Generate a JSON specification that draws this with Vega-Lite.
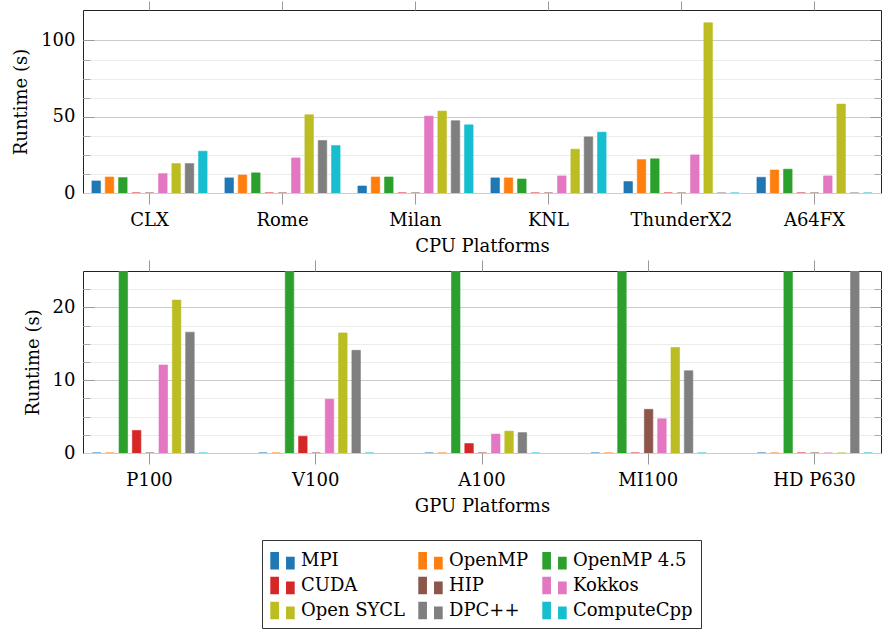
{
  "$schema": "https://vega.github.io/schema/vega-lite/v6.json",
  "padding": {"left": 12, "top": 0, "right": 0, "bottom": 0},
  "spacing": 3,
  "datasets": {
    "cpu": [
      {"p": "CLX", "m": "MPI", "v": 7.9}, {"p": "CLX", "m": "OpenMP", "v": 10.5}, {"p": "CLX", "m": "OpenMP 4.5", "v": 10.1}, {"p": "CLX", "m": "CUDA", "v": 0}, {"p": "CLX", "m": "HIP", "v": 0}, {"p": "CLX", "m": "Kokkos", "v": 12.7}, {"p": "CLX", "m": "Open SYCL", "v": 19.3}, {"p": "CLX", "m": "DPC++", "v": 19.3}, {"p": "CLX", "m": "ComputeCpp", "v": 27.4},
      {"p": "Rome", "m": "MPI", "v": 9.9}, {"p": "Rome", "m": "OpenMP", "v": 11.8}, {"p": "Rome", "m": "OpenMP 4.5", "v": 13.2}, {"p": "Rome", "m": "CUDA", "v": 0}, {"p": "Rome", "m": "HIP", "v": 0}, {"p": "Rome", "m": "Kokkos", "v": 23.0}, {"p": "Rome", "m": "Open SYCL", "v": 51.3}, {"p": "Rome", "m": "DPC++", "v": 34.4}, {"p": "Rome", "m": "ComputeCpp", "v": 31.1},
      {"p": "Milan", "m": "MPI", "v": 4.6}, {"p": "Milan", "m": "OpenMP", "v": 10.5}, {"p": "Milan", "m": "OpenMP 4.5", "v": 10.5}, {"p": "Milan", "m": "CUDA", "v": 0}, {"p": "Milan", "m": "HIP", "v": 0}, {"p": "Milan", "m": "Kokkos", "v": 50.4}, {"p": "Milan", "m": "Open SYCL", "v": 53.7}, {"p": "Milan", "m": "DPC++", "v": 47.4}, {"p": "Milan", "m": "ComputeCpp", "v": 44.7},
      {"p": "KNL", "m": "MPI", "v": 9.9}, {"p": "KNL", "m": "OpenMP", "v": 9.9}, {"p": "KNL", "m": "OpenMP 4.5", "v": 9.2}, {"p": "KNL", "m": "CUDA", "v": 0}, {"p": "KNL", "m": "HIP", "v": 0}, {"p": "KNL", "m": "Kokkos", "v": 11.2}, {"p": "KNL", "m": "Open SYCL", "v": 28.7}, {"p": "KNL", "m": "DPC++", "v": 36.8}, {"p": "KNL", "m": "ComputeCpp", "v": 39.9},
      {"p": "ThunderX2", "m": "MPI", "v": 7.5}, {"p": "ThunderX2", "m": "OpenMP", "v": 21.9}, {"p": "ThunderX2", "m": "OpenMP 4.5", "v": 22.4}, {"p": "ThunderX2", "m": "CUDA", "v": 0}, {"p": "ThunderX2", "m": "HIP", "v": 0}, {"p": "ThunderX2", "m": "Kokkos", "v": 25.0}, {"p": "ThunderX2", "m": "Open SYCL", "v": 111.6}, {"p": "ThunderX2", "m": "DPC++", "v": 0}, {"p": "ThunderX2", "m": "ComputeCpp", "v": 0},
      {"p": "A64FX", "m": "MPI", "v": 10.3}, {"p": "A64FX", "m": "OpenMP", "v": 15.1}, {"p": "A64FX", "m": "OpenMP 4.5", "v": 15.6}, {"p": "A64FX", "m": "CUDA", "v": 0}, {"p": "A64FX", "m": "HIP", "v": 0}, {"p": "A64FX", "m": "Kokkos", "v": 11.2}, {"p": "A64FX", "m": "Open SYCL", "v": 58.3}, {"p": "A64FX", "m": "DPC++", "v": 0}, {"p": "A64FX", "m": "ComputeCpp", "v": 0}
    ],
    "gpu": [
      {"p": "P100", "m": "MPI", "v": 0}, {"p": "P100", "m": "OpenMP", "v": 0}, {"p": "P100", "m": "OpenMP 4.5", "v": 30}, {"p": "P100", "m": "CUDA", "v": 3.1}, {"p": "P100", "m": "HIP", "v": 0}, {"p": "P100", "m": "Kokkos", "v": 12.1}, {"p": "P100", "m": "Open SYCL", "v": 21.0}, {"p": "P100", "m": "DPC++", "v": 16.6}, {"p": "P100", "m": "ComputeCpp", "v": 0},
      {"p": "V100", "m": "MPI", "v": 0}, {"p": "V100", "m": "OpenMP", "v": 0}, {"p": "V100", "m": "OpenMP 4.5", "v": 30}, {"p": "V100", "m": "CUDA", "v": 2.3}, {"p": "V100", "m": "HIP", "v": 0}, {"p": "V100", "m": "Kokkos", "v": 7.4}, {"p": "V100", "m": "Open SYCL", "v": 16.5}, {"p": "V100", "m": "DPC++", "v": 14.1}, {"p": "V100", "m": "ComputeCpp", "v": 0},
      {"p": "A100", "m": "MPI", "v": 0}, {"p": "A100", "m": "OpenMP", "v": 0}, {"p": "A100", "m": "OpenMP 4.5", "v": 30}, {"p": "A100", "m": "CUDA", "v": 1.3}, {"p": "A100", "m": "HIP", "v": 0}, {"p": "A100", "m": "Kokkos", "v": 2.6}, {"p": "A100", "m": "Open SYCL", "v": 3.0}, {"p": "A100", "m": "DPC++", "v": 2.8}, {"p": "A100", "m": "ComputeCpp", "v": 0},
      {"p": "MI100", "m": "MPI", "v": 0}, {"p": "MI100", "m": "OpenMP", "v": 0}, {"p": "MI100", "m": "OpenMP 4.5", "v": 30}, {"p": "MI100", "m": "CUDA", "v": 0}, {"p": "MI100", "m": "HIP", "v": 6.0}, {"p": "MI100", "m": "Kokkos", "v": 4.7}, {"p": "MI100", "m": "Open SYCL", "v": 14.5}, {"p": "MI100", "m": "DPC++", "v": 11.3}, {"p": "MI100", "m": "ComputeCpp", "v": 0},
      {"p": "HD P630", "m": "MPI", "v": 0}, {"p": "HD P630", "m": "OpenMP", "v": 0}, {"p": "HD P630", "m": "OpenMP 4.5", "v": 30}, {"p": "HD P630", "m": "CUDA", "v": 0}, {"p": "HD P630", "m": "HIP", "v": 0}, {"p": "HD P630", "m": "Kokkos", "v": 0}, {"p": "HD P630", "m": "Open SYCL", "v": 0}, {"p": "HD P630", "m": "DPC++", "v": 30}, {"p": "HD P630", "m": "ComputeCpp", "v": 0}
    ]
  },
  "config": {
    "font": "DejaVu Serif",
    "view": {"stroke": "#222222", "strokeWidth": 1},
    "axis": {"labelFont": "DejaVu Serif", "titleFont": "DejaVu Serif", "labelFontSize": 18, "titleFontSize": 18, "titleFontWeight": "normal", "labelColor": "#000000", "titleColor": "#000000", "domain": false},
    "legend": {"labelFont": "DejaVu Serif", "labelFontSize": 18, "labelColor": "#000000"}
  },
  "vconcat": [
    {
      "data": {"name": "cpu"},
      "width": 798,
      "height": 183,
      "resolve": {"axis": {"x": "independent", "y": "independent"}},
      "encoding": {
        "xOffset": {"field": "m", "type": "nominal", "sort": null, "scale": {"domain": ["MPI", "OpenMP", "OpenMP 4.5", "CUDA", "HIP", "Kokkos", "Open SYCL", "DPC++", "ComputeCpp"], "paddingInner": 0.36, "paddingOuter": 0.18}}
      },
      "layer": [
        {
          "mark": {"type": "bar", "clip": true, "strokeWidth": 1, "strokeOpacity": 0.6},
          "encoding": {
            "x": {"field": "p", "type": "nominal", "sort": null, "scale": {"paddingInner": 0.098, "paddingOuter": 0.049}, "axis": {"orient": "bottom", "title": "CPU Platforms", "labelAngle": 0, "ticks": true, "tickSize": 11, "tickColor": "#999999", "labelPadding": 7, "titlePadding": 8, "grid": false}},
            "y": {"field": "v", "type": "quantitative", "scale": {"domain": [0, 120], "nice": false}, "axis": {"orient": "left", "values": [0, 50, 100], "grid": true, "gridColor": "#cccccc", "ticks": false, "labelPadding": 8, "title": "Runtime (s)", "titlePadding": 10}},
            "color": {"field": "m", "type": "nominal", "scale": {"domain": ["MPI", "OpenMP", "OpenMP 4.5", "CUDA", "HIP", "Kokkos", "Open SYCL", "DPC++", "ComputeCpp"], "range": ["#1f77b4", "#ff7f0e", "#2ca02c", "#d62728", "#8c564b", "#e377c2", "#bcbd22", "#7f7f7f", "#17becf"]},
              "legend": {"title": null, "orient": "none", "legendX": 179, "legendY": 530, "columns": 3, "direction": "horizontal", "symbolType": "M-1,-0.71H-0.29V0.71H-1Z M0.29,-0.33H1V0.71H0.29Z", "symbolSize": 595, "symbolStrokeWidth": 0, "labelOffset": 6, "padding": 8, "strokeColor": "#333333", "rowPadding": 3, "columnPadding": 13, "gridAlign": "each", "labelLimit": 300}},
            "stroke": {"field": "m", "type": "nominal", "scale": {"domain": ["MPI", "OpenMP", "OpenMP 4.5", "CUDA", "HIP", "Kokkos", "Open SYCL", "DPC++", "ComputeCpp"], "range": ["#1f77b4", "#ff7f0e", "#2ca02c", "#d62728", "#8c564b", "#e377c2", "#bcbd22", "#7f7f7f", "#17becf"]}, "legend": null}
          }
        },
        {
          "mark": {"type": "bar", "clip": true, "opacity": 0},
          "encoding": {
            "x": {"field": "p", "type": "nominal", "sort": null, "axis": {"orient": "top", "labels": false, "ticks": true, "tickSize": 9, "tickColor": "#999999", "title": null, "grid": false}},
            "y": {"field": "v", "type": "quantitative", "axis": {"orient": "left", "values": [12.5, 25, 37.5, 62.5, 75, 87.5], "grid": true, "gridColor": "#ececec", "ticks": true, "tickSize": -7, "tickColor": "#aaaaaa", "labels": false, "title": null}}
          }
        },
        {
          "mark": {"type": "bar", "clip": true, "opacity": 0},
          "encoding": {
            "x": {"field": "p", "type": "nominal", "sort": null, "axis": null},
            "y": {"field": "v", "type": "quantitative", "axis": {"orient": "left", "values": [50, 100], "grid": false, "ticks": true, "tickSize": -11, "tickColor": "#999999", "labels": false, "title": null}}
          }
        },
        {
          "mark": {"type": "bar", "clip": true, "opacity": 0},
          "encoding": {
            "x": {"field": "p", "type": "nominal", "sort": null, "axis": null},
            "y": {"field": "v", "type": "quantitative", "axis": {"orient": "right", "values": [50, 100], "grid": false, "ticks": true, "tickSize": -11, "tickColor": "#999999", "labels": false, "title": null}}
          }
        },
        {
          "mark": {"type": "bar", "clip": true, "opacity": 0},
          "encoding": {
            "x": {"field": "p", "type": "nominal", "sort": null, "axis": null},
            "y": {"field": "v", "type": "quantitative", "axis": {"orient": "right", "values": [12.5, 25, 37.5, 62.5, 75, 87.5], "grid": false, "ticks": true, "tickSize": -7, "tickColor": "#aaaaaa", "labels": false, "title": null}}
          }
        }
      ]
    },
    {
      "data": {"name": "gpu"},
      "width": 798,
      "height": 182,
      "resolve": {"axis": {"x": "independent", "y": "independent"}},
      "encoding": {
        "xOffset": {"field": "m", "type": "nominal", "sort": null, "scale": {"domain": ["MPI", "OpenMP", "OpenMP 4.5", "CUDA", "HIP", "Kokkos", "Open SYCL", "DPC++", "ComputeCpp"], "paddingInner": 0.36, "paddingOuter": 0.18}}
      },
      "layer": [
        {
          "mark": {"type": "bar", "clip": true, "strokeWidth": 1, "strokeOpacity": 0.6},
          "encoding": {
            "x": {"field": "p", "type": "nominal", "sort": null, "scale": {"paddingInner": 0.283, "paddingOuter": 0.042}, "axis": {"orient": "bottom", "title": "GPU Platforms", "labelAngle": 0, "ticks": true, "tickSize": 11, "tickColor": "#999999", "labelPadding": 7, "titlePadding": 8, "grid": false}},
            "y": {"field": "v", "type": "quantitative", "scale": {"domain": [0, 25], "nice": false}, "axis": {"orient": "left", "values": [0, 10, 20], "grid": true, "gridColor": "#cccccc", "ticks": false, "labelPadding": 8, "title": "Runtime (s)", "titlePadding": 10}},
            "color": {"field": "m", "type": "nominal", "scale": {"domain": ["MPI", "OpenMP", "OpenMP 4.5", "CUDA", "HIP", "Kokkos", "Open SYCL", "DPC++", "ComputeCpp"], "range": ["#1f77b4", "#ff7f0e", "#2ca02c", "#d62728", "#8c564b", "#e377c2", "#bcbd22", "#7f7f7f", "#17becf"]},
              "legend": {"title": null, "orient": "none", "legendX": 179, "legendY": 530, "columns": 3, "direction": "horizontal", "symbolType": "M-1,-0.71H-0.29V0.71H-1Z M0.29,-0.33H1V0.71H0.29Z", "symbolSize": 595, "symbolStrokeWidth": 0, "labelOffset": 6, "padding": 8, "strokeColor": "#333333", "rowPadding": 3, "columnPadding": 13, "gridAlign": "each", "labelLimit": 300}},
            "stroke": {"field": "m", "type": "nominal", "scale": {"domain": ["MPI", "OpenMP", "OpenMP 4.5", "CUDA", "HIP", "Kokkos", "Open SYCL", "DPC++", "ComputeCpp"], "range": ["#1f77b4", "#ff7f0e", "#2ca02c", "#d62728", "#8c564b", "#e377c2", "#bcbd22", "#7f7f7f", "#17becf"]}, "legend": null}
          }
        },
        {
          "mark": {"type": "bar", "clip": true, "opacity": 0},
          "encoding": {
            "x": {"field": "p", "type": "nominal", "sort": null, "axis": {"orient": "top", "labels": false, "ticks": true, "tickSize": 11, "tickColor": "#999999", "title": null, "grid": false}},
            "y": {"field": "v", "type": "quantitative", "axis": {"orient": "left", "values": [2.5, 5, 7.5, 12.5, 15, 17.5, 22.5], "grid": true, "gridColor": "#ececec", "ticks": true, "tickSize": -7, "tickColor": "#aaaaaa", "labels": false, "title": null}}
          }
        },
        {
          "mark": {"type": "bar", "clip": true, "opacity": 0},
          "encoding": {
            "x": {"field": "p", "type": "nominal", "sort": null, "axis": null},
            "y": {"field": "v", "type": "quantitative", "axis": {"orient": "left", "values": [10, 20], "grid": false, "ticks": true, "tickSize": -11, "tickColor": "#999999", "labels": false, "title": null}}
          }
        },
        {
          "mark": {"type": "bar", "clip": true, "opacity": 0},
          "encoding": {
            "x": {"field": "p", "type": "nominal", "sort": null, "axis": null},
            "y": {"field": "v", "type": "quantitative", "axis": {"orient": "right", "values": [10, 20], "grid": false, "ticks": true, "tickSize": -11, "tickColor": "#999999", "labels": false, "title": null}}
          }
        },
        {
          "mark": {"type": "bar", "clip": true, "opacity": 0},
          "encoding": {
            "x": {"field": "p", "type": "nominal", "sort": null, "axis": null},
            "y": {"field": "v", "type": "quantitative", "axis": {"orient": "right", "values": [2.5, 5, 7.5, 12.5, 15, 17.5, 22.5], "grid": false, "ticks": true, "tickSize": -7, "tickColor": "#aaaaaa", "labels": false, "title": null}}
          }
        }
      ]
    }
  ]
}
